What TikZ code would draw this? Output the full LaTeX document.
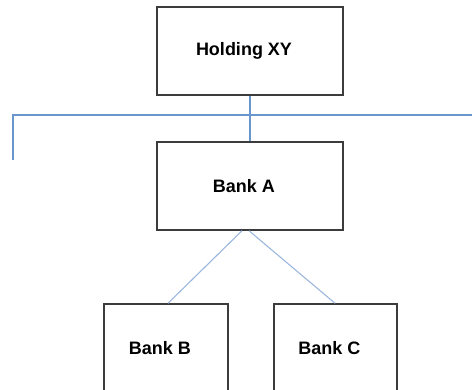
\documentclass[tikz,border=0pt]{standalone}
\usepackage{fontspec}
\setmainfont{Liberation Sans}
\definecolor{boxline}{HTML}{3C3C3C}
\definecolor{busblue}{HTML}{6A96CF}
\definecolor{linkblue}{HTML}{9BB7DE}
\tikzset{
  entity/.style={draw=boxline, line width=1.5pt, fill=white, rectangle,
    inner sep=0pt, font=\bfseries\fontsize{18}{21}\selectfont,
    execute at end node={\kern12pt}},
  bus/.style={draw=busblue, line width=1.7pt},
  link/.style={draw=linkblue, line width=1.1pt}
}
\begin{document}
\begin{tikzpicture}[x=1pt, y=-1pt]
  \useasboundingbox (0,0) rectangle (472,389);
  % ownership bus behind the boxes
  \coordinate (busL) at (13,160);
  \coordinate (busR) at (476,115);
  \draw[bus] (busL) |- (busR);
  % entities
  \node[entity, minimum width=186pt, minimum height=88pt] (holding) at (250,51) {Holding XY};
  \node[entity, minimum width=186pt, minimum height=88pt] (bankA) at (250,186) {Bank A};
  \node[entity, minimum width=124pt, minimum height=88pt] (bankB) at (166,348) {Bank B};
  \node[entity, minimum width=123pt, minimum height=88pt] (bankC) at (335.5,348) {Bank C};
  % connectors
  \draw[bus] (holding.south) -- (bankA.north);
  \draw[link] ([xshift=-8pt]bankA.south) -- ([xshift=2pt]bankB.north);
  \draw[link] ([xshift=-1pt]bankA.south) -- ([xshift=-0.5pt]bankC.north);
\end{tikzpicture}
\end{document}
